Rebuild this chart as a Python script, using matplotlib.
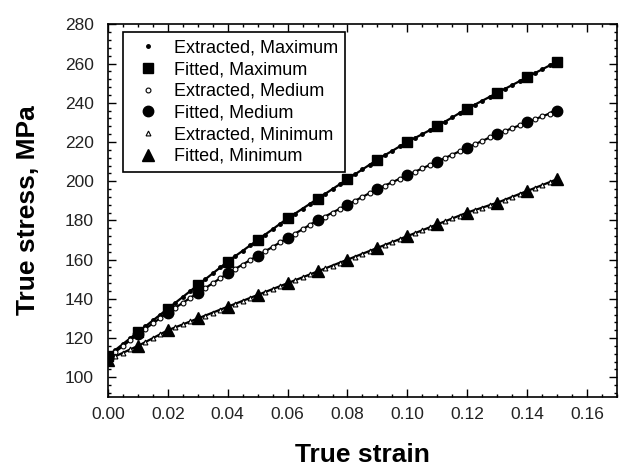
import numpy as np
import matplotlib
matplotlib.use("Agg")
import matplotlib.pyplot as plt
from matplotlib.ticker import MultipleLocator

plt.rcParams['font.family'] = ['Liberation Sans', 'DejaVu Sans']

# Fitted points (every 0.01 strain)
strain_fit = [0.00, 0.01, 0.02, 0.03, 0.04, 0.05, 0.06, 0.07, 0.08, 0.09,
              0.10, 0.11, 0.12, 0.13, 0.14, 0.15]
fit_max = [111, 123, 135, 147, 159, 170, 181, 191, 201, 211, 220, 228, 237, 245, 253, 261]
fit_med = [110, 122, 133, 143, 153, 162, 171, 180, 188, 196, 203, 210, 217, 224, 230, 236]
fit_min = [109, 116, 124, 130, 136, 142, 148, 154, 160, 166, 172, 178, 184, 189, 195, 201]

# Extracted points (every 0.0025 strain)
strain_ext = [0.0000, 0.0025, 0.0050, 0.0075, 0.0100, 0.0125, 0.0150, 0.0175,
              0.0200, 0.0225, 0.0250, 0.0275, 0.0300, 0.0325, 0.0350, 0.0375,
              0.0400, 0.0425, 0.0450, 0.0475, 0.0500, 0.0525, 0.0550, 0.0575,
              0.0600, 0.0625, 0.0650, 0.0675, 0.0700, 0.0725, 0.0750, 0.0775,
              0.0800, 0.0825, 0.0850, 0.0875, 0.0900, 0.0925, 0.0950, 0.0975,
              0.1000, 0.1025, 0.1050, 0.1075, 0.1100, 0.1125, 0.1150, 0.1175,
              0.1200, 0.1225, 0.1250, 0.1275, 0.1300, 0.1325, 0.1350, 0.1375,
              0.1400, 0.1425, 0.1450, 0.1475, 0.1500]
ext_max = [111, 114, 117, 120, 123, 126, 129, 132, 135, 138, 141, 144,
           147, 150, 153, 156, 159, 161.8, 164.5, 167.3, 170, 172.8, 175.5, 178.3,
           181, 183.5, 186, 188.5, 191, 193.5, 196, 198.5, 201, 203.5, 206, 208.5,
           211, 213.3, 215.5, 217.8, 220, 222, 224, 226, 228, 230.3, 232.5, 234.8,
           237, 239, 241, 243, 245, 247, 249, 251, 253, 255, 257, 259, 261]
ext_med = [110, 113, 116, 119, 122, 124.8, 127.5, 130.3, 133, 135.5, 138, 140.5,
           143, 145.5, 148, 150.5, 153, 155.3, 157.5, 159.8, 162, 164.3, 166.5, 168.8,
           171, 173.3, 175.5, 177.8, 180, 182, 184, 186, 188, 190, 192, 194,
           196, 197.8, 199.5, 201.3, 203, 204.8, 206.5, 208.3, 210, 211.8, 213.5, 215.3,
           217, 218.8, 220.5, 222.3, 224, 225.5, 227, 228.5, 230, 231.5, 233, 234.5, 237]
ext_min = [109, 110.8, 112.5, 114.3, 116, 118, 120, 122, 124, 125.5, 127, 128.5,
           130, 131.5, 133, 134.5, 136, 137.5, 139, 140.5, 142, 143.5, 145, 146.5,
           148, 149.5, 151, 152.5, 154, 155.5, 157, 158.5, 160, 161.5, 163, 164.5,
           166, 167.5, 169, 170.5, 172, 173.5, 175, 176.5, 178, 179.5, 181, 182.5,
           184, 185.3, 186.5, 187.8, 189, 190.5, 192, 193.5, 195, 196.5, 198, 199.5, 201]

fig = plt.figure(figsize=(6.26, 4.67), dpi=100)
ax = fig.add_axes([0.1725, 0.15, 0.813, 0.798])

for ys in (ext_max, ext_med, ext_min):
    ax.plot(strain_ext, ys, '-', color='black', lw=1.6, zorder=2)

ax.plot(strain_ext, ext_max, 'o', ms=2.5, color='black', ls='none', label='Extracted, Maximum', zorder=3)
ax.plot(strain_fit, fit_max, 's', ms=7, color='black', ls='none', label='Fitted, Maximum', zorder=4)
ax.plot(strain_ext, ext_med, 'o', ms=3.5, mfc='white', mec='black', mew=0.8, ls='none', label='Extracted, Medium', zorder=3)
ax.plot(strain_fit, fit_med, 'o', ms=7.5, color='black', ls='none', label='Fitted, Medium', zorder=4)
ax.plot(strain_ext, ext_min, '^', ms=3.5, mfc='white', mec='black', mew=0.8, ls='none', label='Extracted, Minimum', zorder=3)
ax.plot(strain_fit, fit_min, '^', ms=8.5, color='black', ls='none', label='Fitted, Minimum', zorder=4)

ax.set_xlim(0, 0.17)
ax.set_ylim(90, 280)
ax.xaxis.set_minor_locator(MultipleLocator(0.005))
ax.yaxis.set_minor_locator(MultipleLocator(4))
ax.set_xticks([0.00, 0.02, 0.04, 0.06, 0.08, 0.10, 0.12, 0.14, 0.16])
ax.set_xticklabels(['0.00', '0.02', '0.04', '0.06', '0.08', '0.10', '0.12', '0.14', '0.16'])
ax.set_yticks([100, 120, 140, 160, 180, 200, 220, 240, 260, 280])
ax.tick_params(which='both', direction='in', top=True, right=True, labelsize=12.5,
               labelcolor='#222222', width=1)
ax.tick_params(which='major', length=5.5)
ax.tick_params(which='minor', length=2.5)
ax.tick_params(axis='x', pad=7)
ax.tick_params(axis='y', pad=10)
for s in ax.spines.values():
    s.set_linewidth(1.2)

ax.set_xlabel('True strain', fontsize=19, fontweight='bold', labelpad=15)
ax.set_ylabel('True stress, MPa', fontsize=19, fontweight='bold', labelpad=18)

leg = ax.legend(loc='upper left', bbox_to_anchor=(0.0295, 0.9786), fontsize=13,
                frameon=True, fancybox=False, edgecolor='black', framealpha=1,
                handletextpad=0.45, labelspacing=0.26, borderpad=0.4, handlelength=1.95,
                borderaxespad=0)
leg.get_frame().set_linewidth(1.2)

fig.savefig('out.png', dpi=100)
